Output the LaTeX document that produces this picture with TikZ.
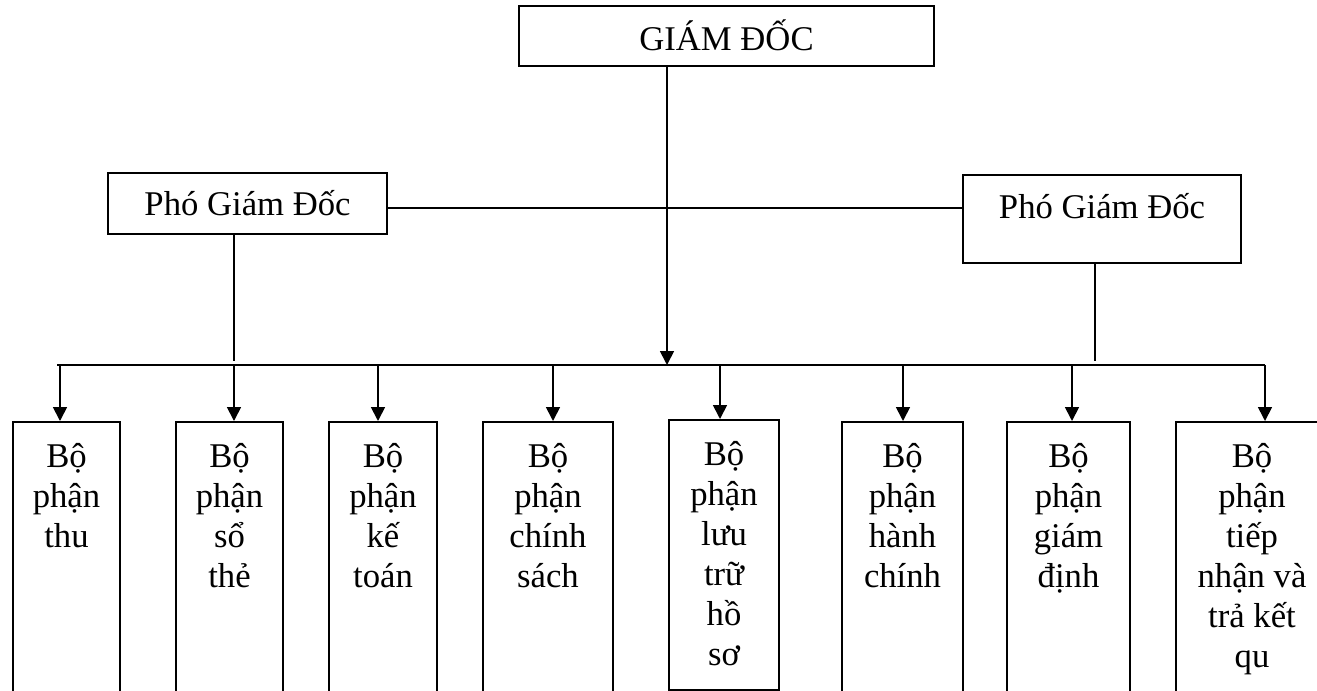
\documentclass[tikz,border=0pt]{standalone}
\usepackage{fontspec}
\setmainfont{Liberation Serif}
\usetikzlibrary{arrows.meta}

\begin{document}
\begin{tikzpicture}[x=0.75pt,y=-0.75pt,
    font=\fontsize{26}{30}\selectfont,
    >={Triangle[length=10.5pt,width=10.5pt]},
    box/.style={draw,line width=1.4pt,inner sep=0pt,anchor=base},
    unit/.style={draw,line width=1.4pt,inner sep=0pt,anchor=north,minimum height=225pt},
    unittext/.style={anchor=north,align=center,inner sep=0pt,yshift=-16.5pt},
    link/.style={line width=1.3pt}]
    \path[use as bounding box,clip] (0,0) rectangle (1317,690);
    % heads
    \node[box,minimum width=311.25pt,text height=33pt,text depth=12pt] (gd) at (726.5,50) {GIÁM ĐỐC};
    \node[box,minimum width=209.25pt,text height=31.5pt,text depth=14.25pt] (pgdL) at (247.5,215) {Phó Giám Đốc};
    \node[box,minimum width=208.5pt,text height=32.25pt,text depth=33.75pt] (pgdR) at (1102,218) {Phó Giám Đốc};
    % units
    \node[unit,minimum width=80.25pt] (thu) at (66.5,421) {};
    \node[unittext] at (thu.north) {Bộ\\phận\\thu};
    \node[unit,minimum width=80.25pt] (sothe) at (229.5,421) {};
    \node[unittext] at (sothe.north) {Bộ\\phận\\sổ\\thẻ};
    \node[unit,minimum width=81pt] (ketoan) at (383,421) {};
    \node[unittext] at (ketoan.north) {Bộ\\phận\\kế\\toán};
    \node[unit,minimum width=97.5pt] (chinhsach) at (548,421) {};
    \node[unittext] at (chinhsach.north) {Bộ\\phận\\chính\\sách};
    \node[unit,minimum width=82.5pt,minimum height=202.5pt] (luutru) at (724,419) {};
    \node[unittext] at (luutru.north) {Bộ\\phận\\lưu\\trữ\\hồ\\sơ};
    \node[unit,minimum width=90.75pt] (hanhchinh) at (902.5,421) {};
    \node[unittext] at (hanhchinh.north) {Bộ\\phận\\hành\\chính};
    \node[unit,minimum width=92.25pt] (giamdinh) at (1068.5,421) {};
    \node[unittext] at (giamdinh.north) {Bộ\\phận\\giám\\định};
    \node[unit,minimum width=114pt] (tiepnhan) at (1252,421) {};
    \node[unittext] at (tiepnhan.north) {Bộ\\phận\\tiếp\\nhận và\\trả kết\\qu};
    % bus
    \coordinate (hub) at (667,365);
    \coordinate (tie) at (667,208);
    \coordinate (rdrop) at (1095,365);
    \coordinate (d1) at (60,365);
    \coordinate (d2) at (234,365);
    \coordinate (d3) at (378,365);
    \coordinate (d4) at (553,365);
    \coordinate (d5) at (720,365);
    \coordinate (d6) at (903,365);
    \coordinate (d7) at (1072,365);
    \coordinate (d8) at (1265,365);
    \draw[link] ([xshift=-2pt]d1) -- (d8);
    \draw[link,->] (hub |- gd.south) -- (hub);
    \draw[link] (pgdL.east |- tie) -- (pgdR.west |- tie);
    \draw[link,shorten >=3pt] (d2 |- pgdL.south) -- (d2);
    \draw[link,shorten >=3pt] (rdrop |- pgdR.south) -- (rdrop);
    \draw[link,->] (d1) -- (d1 |- thu.north);
    \draw[link,->] (d2) -- (d2 |- sothe.north);
    \draw[link,->] (d3) -- (d3 |- ketoan.north);
    \draw[link,->] (d4) -- (d4 |- chinhsach.north);
    \draw[link,->] (d5) -- (d5 |- luutru.north);
    \draw[link,->] (d6) -- (d6 |- hanhchinh.north);
    \draw[link,->] (d7) -- (d7 |- giamdinh.north);
    \draw[link,->] (d8) -- (d8 |- tiepnhan.north);
\end{tikzpicture}
\end{document}
